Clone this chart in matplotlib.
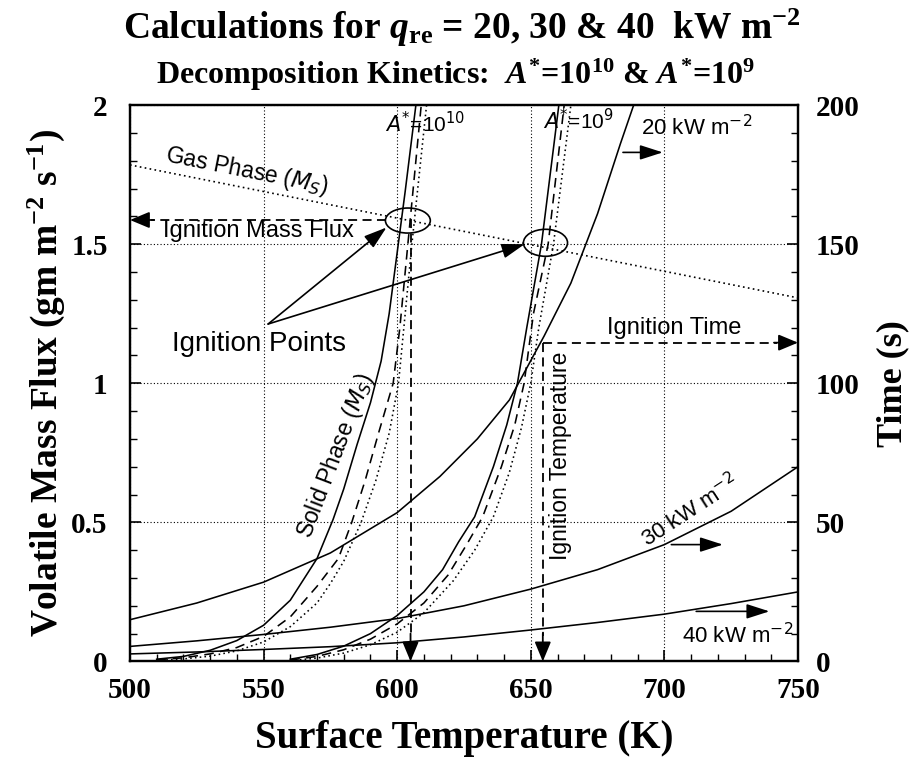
import matplotlib
matplotlib.use("Agg")
import matplotlib.pyplot as plt
import matplotlib.ticker as ticker
from matplotlib.patches import Ellipse

plt.rcParams['font.family'] = 'Liberation Serif'
plt.rcParams['mathtext.fontset'] = 'custom'
plt.rcParams['mathtext.rm'] = 'Liberation Serif:bold'
plt.rcParams['mathtext.it'] = 'Liberation Serif:italic:bold'
plt.rcParams['mathtext.bf'] = 'Liberation Serif:bold'

# solid phase mass flux, A* = 1e10 (solid / dashed / dotted)
a10_solid_T = [510, 520, 530, 540, 550, 560, 570, 576, 580, 585, 590, 594, 597, 600, 603, 607]
a10_solid_M = [0.008, 0.018, 0.04, 0.075, 0.13, 0.22, 0.37, 0.51, 0.62, 0.78, 0.93, 1.08, 1.25, 1.47, 1.69, 2.0]
a10_dash_T = [510, 520, 530, 540, 550, 560, 570, 578, 583, 588, 593, 598.5, 601, 604, 606.5, 609]
a10_dash_M = [0.006, 0.013, 0.027, 0.05, 0.09, 0.16, 0.27, 0.37, 0.5, 0.65, 0.82, 1.0, 1.2, 1.5, 1.75, 2.0]
a10_dot_T = [510, 520, 530, 540, 550, 560, 570, 575, 580, 586.5, 592, 597, 600.5, 603, 605.5, 611]
a10_dot_M = [0.004, 0.009, 0.019, 0.038, 0.07, 0.125, 0.21, 0.28, 0.36, 0.5, 0.65, 0.82, 1.0, 1.25, 1.5, 2.0]

# solid phase mass flux, A* = 1e9
a9_solid_T = [560, 570, 580, 590, 600, 610, 617, 623, 629, 636, 641, 645, 648.5, 654, 660.5]
a9_solid_M = [0.008, 0.025, 0.055, 0.1, 0.165, 0.25, 0.33, 0.43, 0.52, 0.7, 0.85, 1.0, 1.2, 1.5, 2.0]
a9_dash_T = [560, 570, 580, 590, 600, 610, 619, 626, 632, 639, 644, 647.5, 651, 656.5, 662.5]
a9_dash_M = [0.005, 0.018, 0.042, 0.08, 0.135, 0.21, 0.31, 0.42, 0.52, 0.7, 0.85, 1.0, 1.25, 1.5, 2.0]
a9_dot_T = [560, 570, 580, 590, 600, 610, 621, 629, 636, 642, 646.5, 650, 653, 658.5, 665]
a9_dot_M = [0.003, 0.012, 0.03, 0.06, 0.105, 0.175, 0.29, 0.4, 0.52, 0.68, 0.84, 1.0, 1.2, 1.5, 2.0]

# gas phase critical mass flux
gas_T = [500, 750]
gas_M = [1.785, 1.307]

# heating time to reach surface temperature (right axis)
q20_T = [500, 525, 550, 575, 600, 616, 630, 642, 655, 665, 675, 683.5, 688.5]
q20_t = [15, 21, 28.5, 39, 53.5, 66.5, 80, 94, 117, 136, 161, 186, 200]
q30_T = [500, 525, 550, 575, 600, 625, 650, 675, 700, 725, 750]
q30_t = [5.4, 7.4, 9.7, 12.3, 15.4, 20, 26, 33, 42, 54, 70]
q40_T = [500, 525, 550, 575, 600, 625, 650, 675, 700, 725, 750]
q40_t = [2.7, 3.4, 4.3, 5.3, 6.7, 8.8, 11.3, 14, 17, 20.8, 25]

# ignition points
ign10_T, ign10_M = 605, 1.587
ign9_T, ign9_t = 654.5, 114.6

x_ticks = [500, 550, 600, 650, 700, 750]
y_ticks = [0, 0.5, 1, 1.5, 2]
t_ticks = [0, 50, 100, 150, 200]

fig = plt.figure(figsize=(9.12, 7.7), dpi=100)
ax = fig.add_axes([0.1425, 0.141, 0.7325, 0.7225])
ax2 = ax.twinx()

ax.set_xlim(500, 750)
ax.set_ylim(0, 2)
ax2.set_ylim(0, 200)

lw = 1.15
for T, M in [(a10_solid_T, a10_solid_M), (a9_solid_T, a9_solid_M)]:
    ax.plot(T, M, color='k', lw=lw)
for T, M in [(a10_dash_T, a10_dash_M), (a9_dash_T, a9_dash_M)]:
    ax.plot(T, M, color='k', lw=lw, linestyle=(0, (6, 4)))
for T, M in [(a10_dot_T, a10_dot_M), (a9_dot_T, a9_dot_M)]:
    ax.plot(T, M, color='k', lw=lw, linestyle=(0, (1, 2)))

ax.plot(gas_T, gas_M, color='k', lw=1.2, linestyle=(0, (1, 2)))

for T, t in [(q20_T, q20_t), (q30_T, q30_t), (q40_T, q40_t)]:
    ax2.plot(T, t, color='k', lw=lw)

ax.grid(True, color='k', lw=0.8, linestyle=(0, (1, 2)))

# ignition guide lines
dash = (0, (5, 3))
head = dict(arrowstyle='-|>,head_length=1.2,head_width=0.5', color='k', lw=1.3, shrinkA=0, shrinkB=0)
ax.plot([596, 508], [ign10_M, ign10_M], color='k', lw=1.3, linestyle=dash)
ax.annotate('', xy=(500, ign10_M), xytext=(509, ign10_M), arrowprops=head)
ax.plot([ign10_T, ign10_T], [1.59, 0.09], color='k', lw=1.3, linestyle=dash)
ax.annotate('', xy=(ign10_T, 0), xytext=(ign10_T, 0.1), arrowprops=head)

ax2.plot([ign9_T, 742], [ign9_t, ign9_t], color='k', lw=1.3, linestyle=dash)
ax2.annotate('', xy=(750, ign9_t), xytext=(741, ign9_t), arrowprops=head)
ax2.plot([ign9_T, ign9_T], [ign9_t, 9], color='k', lw=1.3, linestyle=dash)
ax2.annotate('', xy=(ign9_T, 0), xytext=(ign9_T, 10), arrowprops=head)

ax.add_patch(Ellipse((604, 1.585), 16.8, 0.09, fill=False, ec='k', lw=1.2))
ax.add_patch(Ellipse((655.5, 1.505), 16.5, 0.097, fill=False, ec='k', lw=1.2))

# ignition points arrows
arrow = dict(arrowstyle='-|>,head_length=1.4,head_width=0.45', color='k', lw=1.2, shrinkA=0, shrinkB=0)
ax.annotate('', xy=(596, 1.56), xytext=(551.7, 1.213), arrowprops=arrow)
ax.annotate('', xy=(647.7, 1.50), xytext=(551.7, 1.213), arrowprops=arrow)

# heat flux arrows
ax.annotate('', xy=(699.4, 1.83), xytext=(684.5, 1.83), arrowprops=arrow)
ax.annotate('', xy=(721.9, 0.42), xytext=(702.6, 0.42), arrowprops=arrow)
ax.annotate('', xy=(739.3, 0.18), xytext=(711.9, 0.18), arrowprops=arrow)

sans = dict(family='Liberation Sans', weight='normal', math_fontfamily='dejavusans',
            ha='center', va='center', color='k')
ax.text(548.4, 1.142, 'Ignition Points', fontsize=20, **sans)
ax.text(547.9, 1.548, 'Ignition Mass Flux', fontsize=17, **sans)
ax.text(543.8, 1.764, 'Gas Phase ($M_S$)', fontsize=16.5, rotation=-11.3, rotation_mode='anchor', **sans)
ax.text(610.3, 1.933, '$A^{*}$=10$^{10}$', fontsize=15, **sans)
ax.text(667.7, 1.944, '$A^{*}$=10$^{9}$', fontsize=15, **sans)
ax.text(711.9, 1.92, '20 kW m$^{-2}$', fontsize=16, **sans)
ax.text(703.8, 1.198, 'Ignition Time', fontsize=17, **sans)
ax.text(661.2, 0.739, 'Ignition Temperature', fontsize=16.5, rotation=90, rotation_mode='anchor', **sans)
ax.text(577, 0.739, 'Solid Phase ($M_S$)', fontsize=16.5, rotation=69, rotation_mode='anchor', **sans)
ax.text(709.4, 0.541, '30 kW m$^{-2}$', fontsize=16, rotation=33, rotation_mode='anchor', **sans)
ax.text(727.4, 0.092, '40 kW m$^{-2}$', fontsize=16, **sans)

# axes styling
ax.set_xticks(x_ticks, [str(v) for v in x_ticks], fontweight='bold', fontsize=21)
ax.set_yticks(y_ticks, ['%g' % v for v in y_ticks], fontweight='bold', fontsize=21)
ax2.set_yticks(t_ticks, [str(v) for v in t_ticks], fontweight='bold', fontsize=21)
ax.xaxis.set_minor_locator(ticker.MultipleLocator(10))
ax.yaxis.set_minor_locator(ticker.MultipleLocator(0.1))
ax2.yaxis.set_minor_locator(ticker.MultipleLocator(10))

ax.tick_params(which='both', direction='in', top=False, right=False)
ax.tick_params(which='major', length=8, width=1.2)
ax.tick_params(which='minor', length=5, width=1.0)
ax.tick_params(axis='x', pad=11)
ax.tick_params(axis='y', pad=16)
ax2.tick_params(which='both', direction='in', pad=13)
ax2.tick_params(which='major', length=8, width=1.2)
ax2.tick_params(which='minor', length=5, width=1.0)
for a in (ax, ax2):
    for s in a.spines.values():
        s.set_linewidth(1.6)

ax.set_xlabel('Surface Temperature (K)', fontsize=28, fontweight='bold', labelpad=12)
ax.set_ylabel('Volatile Mass Flux (gm m$^{-2}$ s$^{-1}$)', fontsize=27, fontweight='bold', labelpad=3)
ax2.set_ylabel('Time (s)', fontsize=26, fontweight='bold', labelpad=12)

fig.text(0.507, 1 - 28 / 770, r'Calculations for $q_{\mathrm{re}}$ = 20, 30 & 40  kW m$^{-2}$',
         ha='center', va='center', fontsize=27, fontweight='bold')
fig.text(0.5, 1 - 75 / 770, r'Decomposition Kinetics:  $A^{*}$=10$^{10}$ & $A^{*}$=10$^{9}$',
         ha='center', va='center', fontsize=23, fontweight='bold')

fig.savefig('out.png', dpi=100)
